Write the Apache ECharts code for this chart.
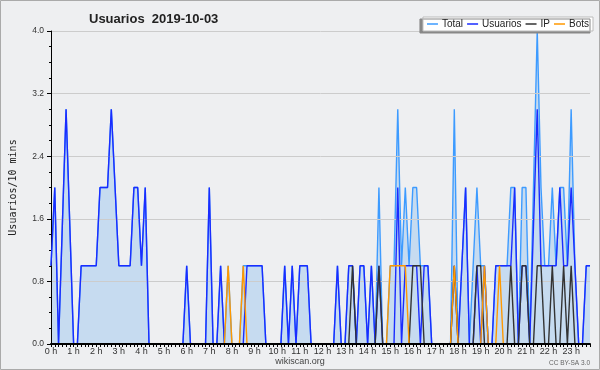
<!DOCTYPE html>
<html><head><meta charset="utf-8">
<script src="https://cdn.jsdelivr.net/npm/echarts@6/dist/echarts.min.js"></script>
<style>html,body{margin:0;padding:0;background:#eeeff1}#c{width:600px;height:370px}</style>
</head><body><div id="c"></div>
<script>
// tick labels of the hour axis
const hourLabels = ['0 h','1 h','2 h','3 h','4 h','5 h','6 h','7 h','8 h','9 h','10 h','11 h',
  '12 h','13 h','14 h','15 h','16 h','17 h','18 h','19 h','20 h','21 h','22 h','23 h'];
const yTickValues = [0, 0.8, 1.6, 2.4, 3.2, 4.0];

// values per 10-minute slot (6 per hour)
const total = [
  1,2,0,1.5,3,1.5,  0,0,1,1,1,1,  1,2,2,2,3,2,  1,1,1,1,2,2,
  1,2,0,0,0,0,  0,0,0,0,0,0,  1,0,0,0,0,0,  2,0,0,1,0,1,
  0,0,0,1,1,1,  1,1,1,0,0,0,  0,0,1,0,1,0,  1,1,1,0,0,0,
  0,0,0,0,1,0,  0,1,1,0,1,1,  0,1,0,2,0,0,  1,1,3,1,2,1,
  2,2,1,1,1,0,  0,0,0,0,0,3,  0,1,2,0,1,2,  1,1,0,0,1,1,
  1,1,2,2,0,2,  2,0,2,4,2,1,  1,2,1,2,2,1,  3,1,0,0,1,1
];
const usuarios = [
  1,2,0,1.5,3,1.5,  0,0,1,1,1,1,  1,2,2,2,3,2,  1,1,1,1,2,2,
  1,2,0,0,0,0,  0,0,0,0,0,0,  1,0,0,0,0,0,  2,0,0,1,0,0,
  0,0,0,0,1,1,  1,1,1,0,0,0,  0,0,1,0,1,0,  1,1,1,0,0,0,
  0,0,0,0,1,0,  0,1,1,0,1,1,  0,1,0,1,0,0,  0,0,2,0,1,1,
  1,1,0,1,1,0,  0,0,0,0,0,1,  0,1,2,0,0,1,  0,1,0,0,1,1,
  1,1,1,2,0,1,  1,0,1.5,3,1,1,  1,1,1,2,1,1,  2,1,0,0,1,1
];
const ip = [
  0,0,0,0,0,0,  0,0,0,0,0,0,  0,0,0,0,0,0,  0,0,0,0,0,0,
  0,0,0,0,0,0,  0,0,0,0,0,0,  0,0,0,0,0,0,  0,0,0,0,0,0,
  0,0,0,0,0,0,  0,0,0,0,0,0,  0,0,0,0,0,0,  0,0,0,0,0,0,
  0,0,0,0,0,0,  0,0,1,0,0,0,  0,0,0,1,0,0,  0,0,0,0,0,0,
  1,1,1,0,0,0,  0,0,0,0,0,1,  0,0,0,0,0,1,  1,0,0,0,0,0,
  0,0,1,0,0,1,  1,0,0,1,1,0,  0,1,0,0,1,0,  1,0,0,0,0,0
];
const bots = [
  0,0,0,0,0,0,  0,0,0,0,0,0,  0,0,0,0,0,0,  0,0,0,0,0,0,
  0,0,0,0,0,0,  0,0,0,0,0,0,  0,0,0,0,0,0,  0,0,0,0,0,1,
  0,0,0,1,0,0,  0,0,0,0,0,0,  0,0,0,0,0,0,  0,0,0,0,0,0,
  0,0,0,0,0,0,  0,0,0,0,0,0,  0,0,0,0,0,0,  1,1,1,1,1,0,
  0,0,0,0,0,0,  0,0,0,0,0,1,  0,0,0,0,0,0,  0,1,0,0,0,1,
  0,0,0,0,0,0,  0,0,0,0,0,0,  0,0,0,0,0,0,  0,0,0,0,0,0
];

const slots = [];
hourLabels.forEach(function (h, hi) {
  for (let m = 0; m < 6; m++) slots.push(hi + ':' + m + '0');
});

const FONT = '"Liberation Sans", Arial, sans-serif';
const chart = echarts.init(document.getElementById('c'), null, {renderer: 'canvas'});
function line(name, data, color, z, extra) {
  return Object.assign({
    name: name, type: 'line', data: data, symbol: 'none', showSymbol: false, z: z,
    lineStyle: {color: color, width: 1.4}, itemStyle: {color: color},
    animation: false, silent: true
  }, extra || {});
}
chart.setOption({
  backgroundColor: '#eeeff1',
  animation: false,
  title: {
    text: 'Usuarios  2019-10-03', left: 84, top: 8,
    textStyle: {fontFamily: FONT, fontSize: 13, fontWeight: 'bold', color: '#222'}
  },
  legend: {
    right: 7, top: 17, icon: 'rect', itemWidth: 11, itemHeight: 1.5, itemGap: 4,
    padding: [1, 4, 1, 4], z: 10,
    backgroundColor: '#ffffff', borderColor: '#bbbbbb', borderWidth: 1,
    shadowColor: '#888888', shadowBlur: 0, shadowOffsetX: -3, shadowOffsetY: 2,
    textStyle: {fontFamily: FONT, fontSize: 10, color: '#222', lineHeight: 12, padding: [0,0,0,-1]},
    data: ['Total', 'Usuarios', 'IP', 'Bots']
  },
  grid: {left: 46, right: 10, top: 31, bottom: 26},
  xAxis: {
    type: 'category', data: slots, boundaryGap: false, z: 8,
    axisLine: {lineStyle: {color: '#000', width: 2}},
    axisTick: {interval: 0, length: 3, lineStyle: {color: '#000'}},
    axisLabel: {
      interval: 5, margin: 3, fontFamily: FONT, fontSize: 9, color: '#333',
      formatter: function (v, idx) { return idx % 6 === 0 ? hourLabels[idx / 6] : ''; }
    },
    splitLine: {show: false}
  },
  yAxis: {
    type: 'value', min: yTickValues[0], max: yTickValues[yTickValues.length - 1],
    interval: yTickValues[1], z: 2,
    name: 'Usuarios/10 mins', nameLocation: 'middle', nameRotate: 90, nameGap: 33,
    nameTextStyle: {fontFamily: '"DejaVu Sans Mono", monospace', fontSize: 10, color: '#222'},
    axisLine: {show: true, lineStyle: {color: '#000', width: 1}},
    axisTick: {show: true, length: 4, lineStyle: {color: '#000'}},
    minorTick: {show: true, splitNumber: 4, length: 2, lineStyle: {color: '#000'}},
    splitLine: {show: true, lineStyle: {color: '#cccccc', width: 1}},
    axisLabel: {
      margin: 7, fontFamily: FONT, fontSize: 8.5, color: '#333',
      formatter: function (v) { return v.toFixed(1); }
    }
  },
  series: [
    line('Total', total, '#3d9bff', 1, {areaStyle: {color: '#c6dbf0', opacity: 1}}),
    line('Usuarios', usuarios, '#1a2cff', 3),
    line('IP', ip, '#333333', 3),
    line('Bots', bots, '#ff9900', 3)
  ],
  graphic: [
    {type: 'rect', shape: {x: 0.5, y: 0.5, width: 599, height: 369}, z: 20,
     style: {fill: 'none', stroke: '#aaaaaa', lineWidth: 1}, silent: true},
    {type: 'text', x: 300, y: 362, style: {text: 'wikiscan.org', fill: '#444',
     font: '9px "Liberation Sans", Arial, sans-serif', align: 'center', verticalAlign: 'middle'}},
    {type: 'text', x: 590, y: 363, style: {text: 'CC BY-SA 3.0', fill: '#666',
     font: '6.5px "Liberation Sans", Arial, sans-serif', align: 'right', verticalAlign: 'middle'}}
  ]
});
</script></body></html>
